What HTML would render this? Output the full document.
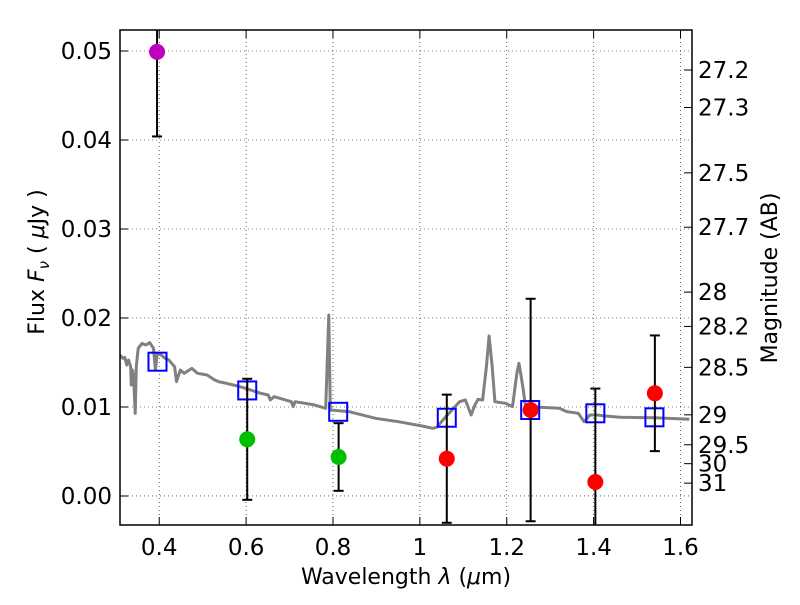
<!DOCTYPE html>
<html><head><meta charset="utf-8"><style>
body{margin:0;background:#fff}
svg text{font-family:"DejaVu Sans","Liberation Sans",sans-serif;fill:#000}
</style></head><body>
<svg id="c" width="800" height="600" xmlns="http://www.w3.org/2000/svg"></svg>
<script>
const xTicks=[0.4,0.6,0.8,1.0,1.2,1.4,1.6];
const xTickLabels=["0.4","0.6","0.8","1","1.2","1.4","1.6"];
const yTicks=[0,0.01,0.02,0.03,0.04,0.05];
const yTickLabels=["0.00","0.01","0.02","0.03","0.04","0.05"];
const magTicks=[27.2,27.3,27.5,27.7,28,28.2,28.5,29,29.5,30,31];
const sedWave=[.3093,.3164,.3208,.3252,.3296,.334,.3357,.3384,.341,.3446,.3472,.3516,.3604,.3692,.378,.3868,.3912,.3956,.4045,.4133,.4221,.4353,.4397,.4485,.4573,.475,.4882,.5102,.5278,.5366,.5542,.5807,.5983,.6335,.6511,.6555,.6644,.6776,.704,.7084,.7128,.7569,.7833,.7903,.7938,.8362,.8978,.9507,1.0035,1.0299,1.0388,1.0564,1.074,1.0916,1.1048,1.1136,1.118,1.1268,1.1339,1.1445,1.1533,1.1595,1.1665,1.1727,1.1974,1.2132,1.2238,1.2282,1.237,1.2432,1.2766,1.3207,1.3383,1.3648,1.378,1.3912,1.4088,1.4265,1.4617,1.5409,1.6202];
const sedFlux=[.01584,.01547,.01558,.01472,.01528,.01453,.01247,.01416,.01341,.00929,.01453,.01659,.01715,.01697,.01723,.01659,.01416,.01603,.01584,.01547,.01528,.01453,.01285,.01416,.01378,.01434,.01378,.0136,.01303,.01285,.01266,.01236,.0121,.01154,.01135,.01079,.01116,.01098,.0106,.01004,.0106,.01023,.00985,.02034,.00966,.00948,.00873,.00835,.00787,.00761,.00772,.00873,.00966,.0106,.01079,.00966,.0091,.01023,.01086,.01079,.01453,.01798,.01453,.0106,.01041,.01004,.01397,.01491,.01229,.01011,.00996,.00985,.00948,.00929,.00835,.0091,.0091,.00899,.00884,.0088,.00862];
const modelWave=[0.396,0.6026,0.812,1.062,1.254,1.404,1.54];
const modelFlux=[0.01509,0.01186,0.00946,0.00879,0.00966,0.00929,0.00884];
const obsWave=[0.395,0.6026,0.813,1.062,1.255,1.404,1.541];
const obsFlux=[0.0499,0.00637,0.00438,0.00419,0.00966,0.00157,0.01154];
const obsErr=[0.0095,0.0068,0.0038,0.0072,0.0125,0.0105,0.0065];
const obsColor=["#bf00bf","#00bf00","#00bf00","#ff0000","#ff0000","#ff0000","#ff0000"];

const L=120,R=692,T=30,B=525;
const X0=0.3097,X1=1.6265,Y0=-0.00326,Y1=0.05236;
const xs=v=>L+(v-X0)/(X1-X0)*(R-L);
const ys=v=>B-(v-Y0)/(Y1-Y0)*(B-T);
const NS="http://www.w3.org/2000/svg";
const svg=document.getElementById('c');
function mk(tag,attrs,parent){const e=document.createElementNS(NS,tag);for(const k in attrs)e.setAttribute(k,attrs[k]);(parent||svg).appendChild(e);return e;}
const defs=mk('defs',{});const cp=mk('clipPath',{id:'clip'},defs);mk('rect',{x:L,y:T,width:R-L,height:B-T},cp);
const plot=mk('g',{'clip-path':'url(#clip)'});


xTicks.forEach((t,i)=>{const x=xs(t);
 const g=mk('line',{x1:x,x2:x,y1:T,y2:B,stroke:'#000','stroke-width':0.6,'stroke-dasharray':'1,3'},plot);
 
 
 mk('line',{x1:x,x2:x,y1:B,y2:B-8,stroke:'#000'});mk('line',{x1:x,x2:x,y1:T,y2:T+8,stroke:'#000'});
 const tx=mk('text',{x:x,y:B+30,'font-size':23,'text-anchor':'middle'});tx.textContent=xTickLabels[i];
 
 
});
yTicks.forEach((t,i)=>{const y=ys(t);
 const g=mk('line',{x1:L,x2:R,y1:y,y2:y,stroke:'#000','stroke-width':0.6,'stroke-dasharray':'1,3'},plot);
 
 
 mk('line',{x1:L,x2:L+8,y1:y,y2:y,stroke:'#000'});
 const tx=mk('text',{x:L-8,y:y+8,'font-size':23,'text-anchor':'end'});tx.textContent=yTickLabels[i];
 
 
});
magTicks.forEach(m=>{const f=Math.pow(10,(23.9-m)/2.5);const y=ys(f);
 mk('line',{x1:R,x2:R-8,y1:y,y2:y,stroke:'#000'});
 const tx=mk('text',{x:R+6,y:y+8,'font-size':23});tx.textContent=String(m);
 
 
});
const pts=sedWave.map((w,i)=>xs(w).toFixed(1)+','+ys(sedFlux[i]).toFixed(1)).join(' ');
const sed=mk('polyline',{points:pts,fill:'none',stroke:'#808080','stroke-width':3,'stroke-linejoin':'round'},plot);


modelWave.forEach((w,i)=>{const x=xs(w),y=ys(modelFlux[i]);
 const r=mk('rect',{x:x-9,y:y-9,width:18,height:18,fill:'none',stroke:'#0000ff','stroke-width':2},plot);
 
 
});
obsWave.forEach((w,i)=>{const x=xs(w),y1=ys(obsFlux[i]+obsErr[i]),y2=ys(obsFlux[i]-obsErr[i]);
 const g=mk('g',{stroke:'#000','stroke-width':2},plot);
 
 
 mk('line',{x1:x,x2:x,y1:y1,y2:y2},g);mk('line',{x1:x-5,x2:x+5,y1:y1,y2:y1},g);mk('line',{x1:x-5,x2:x+5,y1:y2,y2:y2},g);
});
obsWave.forEach((w,i)=>{
 const c=mk('circle',{cx:xs(w),cy:ys(obsFlux[i]),r:8,fill:obsColor[i]},plot);
 
 
});
const fr=mk('rect',{x:L,y:T,width:R-L,height:B-T,fill:'none',stroke:'#000','stroke-width':1.5});


</script>
<svg style="position:absolute;left:0;top:0" width="800" height="600" xmlns="http://www.w3.org/2000/svg">
<text x="406" y="584" font-size="22" text-anchor="middle">Wavelength  <tspan font-style="italic">λ</tspan> (<tspan font-style="italic">μ</tspan>m)</text>
<text transform="translate(44,262) rotate(-90)" font-size="22" text-anchor="middle">Flux  <tspan font-style="italic">F</tspan><tspan font-style="italic" font-size="15" dy="5">ν</tspan><tspan dy="-5">  ( </tspan><tspan font-style="italic">μ</tspan>Jy )</text>
<text transform="translate(777,278) rotate(-90)" font-size="22" text-anchor="middle">Magnitude (AB)</text>
</svg>
</body></html>
